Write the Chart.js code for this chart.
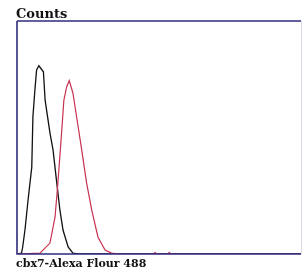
<!DOCTYPE html>
<html><head><meta charset="utf-8">
<script src="https://cdn.jsdelivr.net/npm/chart.js@4.4.1/dist/chart.umd.min.js"></script>
<style>html,body{margin:0;padding:0;background:#fff}canvas{display:block}</style>
</head><body>
<canvas id="c" width="302" height="270"></canvas>
<script>
const yTitle = "Counts";
const xTitle = "cbx7-Alexa Flour 488";
// channel (0-1000) and counts (0-100)
const controlX = [0, 16, 20, 28, 39, 52, 56, 63, 69, 77, 93, 99, 116, 127, 140, 151, 162, 180, 197, 215, 1000];
const controlY = [0, 0.4, 3, 10.3, 23.2, 37.3, 58.8, 70.4, 79, 80.8, 78.2, 66, 52, 44.6, 30.5, 18.9, 10.3, 3, 0.4, 0, 0];
const sampleX = [0, 81, 116, 134, 144, 157, 165, 175, 184, 197, 210, 228, 245, 263, 285, 310, 333, 360, 480, 486, 492, 530, 536, 542, 1000];
const sampleY = [0, 0.4, 4.7, 15.9, 30.5, 52, 66, 71.8, 74.4, 69, 58.8, 44.6, 30.5, 18.9, 7.3, 1.7, 0.4, 0, 0, 0.6, 0, 0, 0.6, 0, 0];

const toPts = (xs, ys) => xs.map((x, i) => ({x: x, y: ys[i]}));

const framePlugin = {
  id: 'frame',
  afterDraw(chart) {
    const ctx = chart.ctx, a = chart.chartArea;
    ctx.save();
    ctx.strokeStyle = '#2e2b7c';
    ctx.lineWidth = 1.6;
    ctx.beginPath();
    ctx.moveTo(a.left, a.top); ctx.lineTo(a.right, a.top);
    ctx.moveTo(a.left, a.top); ctx.lineTo(a.left, a.bottom); ctx.lineTo(a.right, a.bottom);
    ctx.stroke();
    ctx.strokeStyle = '#d8d8e8';
    ctx.lineWidth = 1;
    ctx.beginPath();
    ctx.moveTo(a.right + 0.5, a.top); ctx.lineTo(a.right + 0.5, a.bottom);
    ctx.stroke();
    ctx.fillStyle = '#111';
    ctx.textBaseline = 'alphabetic';
    ctx.font = 'bold 13px "DejaVu Serif"';
    ctx.fillText(yTitle, a.left - 1, a.top - 3);
    ctx.font = 'bold 11px "DejaVu Serif"';
    ctx.fillText(xTitle, a.left - 1, a.bottom + 13);
    ctx.restore();
  }
};

new Chart(document.getElementById('c'), {
  type: 'line',
  data: {
    datasets: [
      {data: toPts(sampleX, sampleY), borderColor: '#c8314f', borderWidth: 1.2, pointRadius: 0, tension: 0},
      {data: toPts(controlX, controlY), borderColor: '#111111', borderWidth: 1.3, pointRadius: 0, tension: 0}
    ]
  },
  options: {
    responsive: false,
    devicePixelRatio: 1,
    animation: false,
    layout: {padding: {left: 17, top: 21, right: 1, bottom: 16}},
    plugins: {legend: {display: false}, tooltip: {enabled: false}},
    scales: {
      x: {type: 'linear', min: 0, max: 1000, display: false},
      y: {min: 0, max: 100, display: false}
    }
  },
  plugins: [framePlugin]
});
</script>
</body></html>
